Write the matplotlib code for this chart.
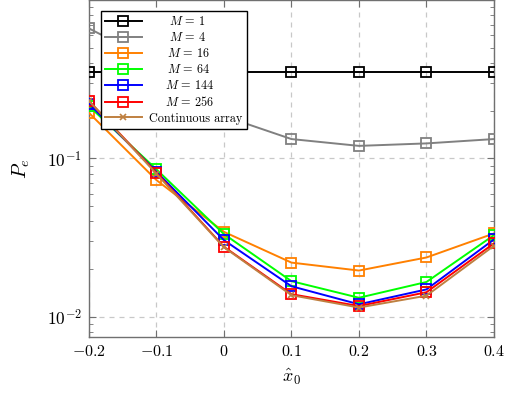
import matplotlib
matplotlib.use("Agg")
import matplotlib.pyplot as plt
from matplotlib.ticker import FixedLocator, FixedFormatter, LogLocator, NullFormatter

plt.rcParams['mathtext.fontset'] = 'cm'
plt.rcParams['font.family'] = ['cmr10', 'DejaVu Serif']
plt.rcParams['axes.unicode_minus'] = False

x = [-0.2, -0.1, 0.0, 0.1, 0.2, 0.3, 0.4]
xtick_labels = [r'$-0.2$', r'$-0.1$', r'$0$', r'$0.1$', r'$0.2$', r'$0.3$', r'$0.4$']

pe_m1 = [0.352, 0.352, 0.352, 0.352, 0.352, 0.352, 0.352]
pe_m4 = [0.662, 0.40, 0.185, 0.1325, 0.120, 0.1244, 0.1325]
pe_m16 = [0.194, 0.073, 0.0344, 0.0220, 0.0196, 0.0237, 0.0336]
pe_m64 = [0.214, 0.0853, 0.0333, 0.0168, 0.0132, 0.0166, 0.0328]
pe_m144 = [0.222, 0.0824, 0.0305, 0.0156, 0.0120, 0.0149, 0.0308]
pe_m256 = [0.231, 0.0812, 0.0277, 0.0139, 0.0117, 0.0143, 0.0291]
pe_cont = [0.231, 0.0800, 0.0275, 0.0137, 0.01145, 0.0136, 0.0281]

labels = [r'$M\,=\,1$', r'$M\,=\,4$', r'$M\,=\,16$', r'$M\,=\,64$',
          r'$M\,=\,144$', r'$M\,=\,256$', 'Continuous array']

series = [pe_m1, pe_m4, pe_m16, pe_m64, pe_m144, pe_m256]
colors = ['black', '#808080', '#ff8000', '#00ff00', '#0000ff', '#ff0000']
brown = '#bf8040'

DPI = 100
fig = plt.figure(figsize=(5.14, 3.98), dpi=DPI)
ax = fig.add_axes([0.173, 0.153, 0.788, 0.847])

for ys, c, lab in zip(series, colors, labels[:6]):
    ax.plot(x, ys, color=c, lw=1.4, marker='s', markersize=6.5, markerfacecolor='none',
            markeredgecolor=c, markeredgewidth=1.3, label=lab, zorder=3)
ax.plot(x, pe_cont, color=brown, lw=1.4, marker='x', markersize=4,
        markeredgewidth=1.2, label=labels[6], zorder=3)

ax.set_yscale('log')
ax.set_xlim(-0.2, 0.4)
ax.set_ylim(0.00745, 1.0)

ax.xaxis.set_major_locator(FixedLocator(x))
ax.xaxis.set_major_formatter(FixedFormatter(xtick_labels))
ax.yaxis.set_major_locator(FixedLocator([0.01, 0.1]))
ax.yaxis.set_major_formatter(FixedFormatter([r'$10^{-2}$', r'$10^{-1}$']))
ax.yaxis.set_minor_locator(LogLocator(base=10, subs=range(2, 10)))
ax.yaxis.set_minor_formatter(NullFormatter())

ax.grid(True, which='major', color='#c8c8c8', ls=(0, (4, 4)), lw=0.9)
ax.set_axisbelow(True)

for sp in ax.spines.values():
    sp.set_color('#707070')
    sp.set_linewidth(1.0)
ax.tick_params(which='both', direction='in', top=True, right=True, color='#707070',
               labelsize=11.5, pad=5)
ax.tick_params(axis='y', labelsize=12.5)
ax.tick_params(which='major', length=5)
ax.tick_params(which='minor', length=3)

ax.set_xlabel(r'$\hat{x}_0$', fontsize=13, labelpad=6)
ax.set_ylabel(r'$P_e$', fontsize=14.5, labelpad=11)

leg = ax.legend(loc='upper left', bbox_to_anchor=(0.029, 0.968), fontsize=8.8,
                fancybox=False, edgecolor='black', framealpha=1.0,
                handlelength=3.0, handletextpad=0.6, labelspacing=0.25,
                borderpad=0.35, borderaxespad=0.0)
leg.get_frame().set_linewidth(1.0)

fig.canvas.draw()
renderer = fig.canvas.get_renderer()
widths = [t.get_window_extent(renderer).width for t in leg.get_texts()]
maxw = max(widths)
for t, w in zip(leg.get_texts(), widths):
    t.set_position(((maxw - w) / 2 * 72.0 / DPI, 0))

fig.savefig('out.png', dpi=DPI)
